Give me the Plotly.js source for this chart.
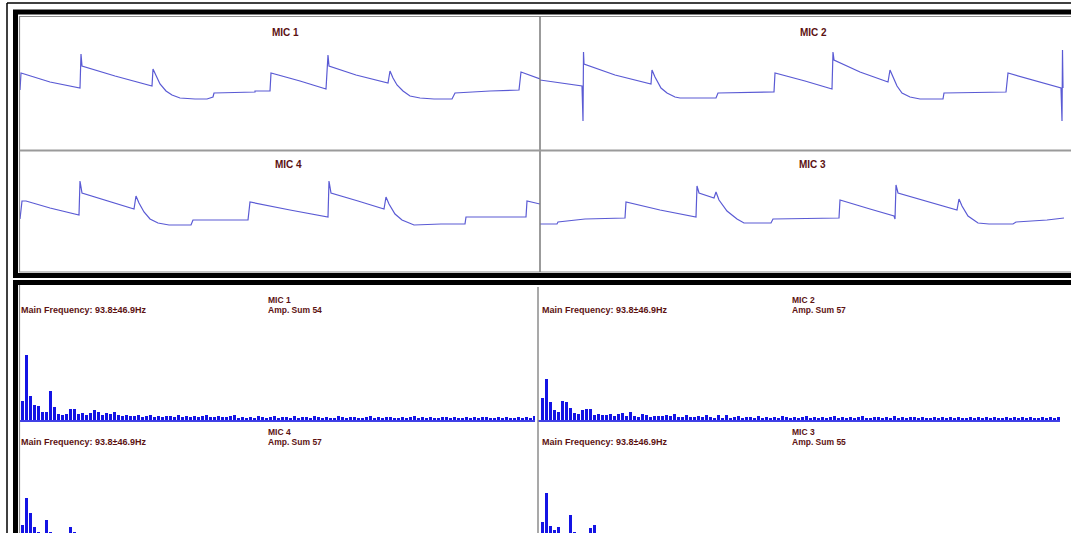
<!DOCTYPE html>
<html><head><meta charset="utf-8">
<script src="https://cdn.plot.ly/plotly-3.0.1.min.js"></script>
<style>html,body{margin:0;padding:0;background:#fff;overflow:hidden}#chart{width:1071px;height:533px}</style>
</head><body><div id="chart"></div>
<script>
// ---- waveform data (time in samples, amplitude in arbitrary units) ----
const micNames = ["MIC 1", "MIC 2", "MIC 4", "MIC 3"];

const mic1T = [0,1,30,58,60,61,62,95,132,133,136,140,146,152,160,175,187,193,194,235,235,250,251,280,306,308,309,336,368,370,373,377,383,390,400,414,432,435,470,499,501,520];
const mic1A = [10,27,18,12,12,46,34,24,14,31,24,16,9,5,2,1,1,3,7,8,9,9,27,19,11,45,34,25,17,29,22,15,9,4,2,1,1,7,9,10,28,21];

const mic2T = [0,38,42,43,43.5,44,75,110,111,112,115,121,127,135,140,176,178,234,235,265,292,293,294,320,348,350,353,357,362,370,380,403,404,466,468,495,521,522,522.5,523];
const mic2A = [20,14,14,-21,48,36,25,16,16,30,23,12,7,3,2,2,7,8,27,19,11,48,40,28,18,30,23,14,7,3,1,1,7,8,27,19,12,-21,50,12];

const mic4T = [0,2,6,30,59,60,62,88,114,116,119,124,130,138,149,171,173,228,230,270,308,309,311,338,364,366,369,375,382,394,421,445,446,506,507,520];
const mic4A = [11,29,29,22,15,49,37,29,21,34,27,18,11,7,5,5,10,10,28,20,13,49,37,29,21,33,26,16,10,5,6,6,13,13,29,26];

const mic3T = [0,17,18,45,85,86,120,156,157,159,174,176,179,187,197,204,231,233,299,300,330,354,355,356,358,390,417,419,422,428,438,449,473,476,507,524];
const mic3A = [6,6,8,11,12,28,20,13,44,37,32,38,30,19,11,7,7,11,12,30,21,14,11,45,37,28,20,31,24,14,7,6,6,8,10,12];

// ---- spectra (bin index, amplitude) ----
const spec1 = [19,65,24,15,14,8,8,29,13,6, 5,6,11,11,6,7,5,7,10,8, 5,7,6,8,5,4,5,4,4,5, 3,4,5,3,4,3,4,4,3,5,
  3,4,3,4,3,4,5,3,3,4, 3,3,4,5,2,3,2,3,2,4, 3,2,3,4,2,3,3,2,4,2, 3,3,2,4,3,2,3,2,2,4,
  3,2,3,3,2,2,3,4,2,3, 2,3,3,2,2,3,2,3,4,2, 3,2,3,2,2,3,3,2,3,2, 2,3,2,3,2,3,3,2,2,3, 2,3,2,2,3,2,3,2,4];
const spec2 = [22,41,18,10,8,19,18,12,7,6, 10,11,11,5,6,5,5,6,4,6, 7,4,8,4,3,6,5,3,4,4, 4,5,4,6,3,3,5,3,3,4,
  3,5,3,2,5,2,5,2,3,4, 2,3,3,2,4,2,3,2,3,2, 4,3,2,3,2,3,4,2,3,2, 3,2,3,4,2,3,2,3,2,3,
  4,2,2,3,3,2,3,2,4,2, 3,2,3,3,2,3,2,2,3,2, 3,2,3,2,3,2,2,3,2,3, 2,3,2,3,2,2,3,2,3,2, 3,2,3,2,2,3,2,3,2,3];
const spec4 = [31,58,43,29,24,22,36,24,18,16, 17,22,29,24,15,14,16,12,14,10, 12,11,10,12,9,10,8,9,10,8];
const spec3 = [34,63,30,26,29,20,18,41,24,16, 15,18,28,31,14,15,12,13,11,12, 10,12,9,11,10,8,9,10,8,9];

const mainFreqText = "Main Frequency: 93.8±46.9Hz";
const ampSums = [54, 57, 57, 55];

// ---- layout helpers ----
const W = 1071, H = 533;
const fx = p => p / W;
const fy = p => 1 - p / H;
const idx = a => a.map((_, i) => i);

const waveColor = "#5a5ad4";
const barColor = "#1414e4";
const textColor = "#5c1212";

const traces = [
  {x: mic1T, y: mic1A, xaxis: "x", yaxis: "y"},
  {x: mic2T, y: mic2A, xaxis: "x2", yaxis: "y2"},
  {x: mic4T, y: mic4A, xaxis: "x3", yaxis: "y3"},
  {x: mic3T, y: mic3A, xaxis: "x4", yaxis: "y4"}
].map(t => Object.assign(t, {type: "scatter", mode: "lines", line: {color: waveColor, width: 1.2}, hoverinfo: "skip"}));

[[spec1, "x5", "y5"], [spec2, "x6", "y6"], [spec4, "x7", "y7"], [spec3, "x8", "y8"]].forEach(([s, xa, ya]) => {
  traces.push({type: "bar", x: idx(s), y: s, xaxis: xa, yaxis: ya, marker: {color: barColor, line: {width: 0}}, width: 0.75, hoverinfo: "skip"});
});

const ax = (extra) => Object.assign({showgrid: false, zeroline: false, showticklabels: false, ticks: "", showline: false, fixedrange: true}, extra);

const leftX = [fx(20), fx(540)], rightX = [fx(540), 1];
const topY = [fy(150), fy(17)], midY = [fy(272), fy(151)];
const specLX = [fx(20), fx(535)], specRX = [fx(538), fx(1060)];
const specTopY = [fy(420), fy(287)], specBotY = [0, fy(423)];
const baseLine = {showline: true, linecolor: "#4040e6", linewidth: 2};

const layout = {
  width: W, height: H,
  margin: {l: 0, r: 0, t: 0, b: 0},
  paper_bgcolor: "#ffffff", plot_bgcolor: "rgba(0,0,0,0)",
  showlegend: false, bargap: 0,
  font: {family: "Liberation Sans, Arial, sans-serif"},
  xaxis: ax({domain: leftX, range: [0, 520], anchor: "y"}),
  yaxis: ax({domain: topY, range: [-50, 83], anchor: "x"}),
  xaxis2: ax({domain: rightX, range: [0, 531], anchor: "y2"}),
  yaxis2: ax({domain: topY, range: [-50, 83], anchor: "x2"}),
  xaxis3: ax({domain: leftX, range: [0, 520], anchor: "y3"}),
  yaxis3: ax({domain: midY, range: [-42, 79], anchor: "x3"}),
  xaxis4: ax({domain: rightX, range: [0, 531], anchor: "y4"}),
  yaxis4: ax({domain: midY, range: [-42, 79], anchor: "x4"}),
  xaxis5: ax(Object.assign({domain: specLX, range: [-0.5, 128.25], anchor: "y5"}, baseLine)),
  yaxis5: ax({domain: specTopY, range: [0, 133], anchor: "x5"}),
  xaxis6: ax(Object.assign({domain: specRX, range: [-1, 129.5], anchor: "y6"}, baseLine)),
  yaxis6: ax({domain: specTopY, range: [0, 133], anchor: "x6"}),
  xaxis7: ax({domain: specLX, range: [-0.5, 128.25], anchor: "y7"}),
  yaxis7: ax({domain: specBotY, range: [23, 133], anchor: "x7"}),
  xaxis8: ax({domain: specRX, range: [-1, 129.5], anchor: "y8"}),
  yaxis8: ax({domain: specBotY, range: [23, 133], anchor: "x8"}),
  shapes: [],
  annotations: []
};

const line = (x0, y0, x1, y1, color, width) => ({type: "line", xref: "paper", yref: "paper", x0: fx(x0), y0: fy(y0), x1: fx(x1), y1: fy(y1), line: {color, width}, layer: "above"});
const rect = (x0, y0, x1, y1, color, width) => ({type: "rect", xref: "paper", yref: "paper", x0: fx(x0), y0: fy(y0), x1: fx(x1), y1: fy(y1), line: {color, width}, fillcolor: "rgba(0,0,0,0)", layer: "above"});

layout.shapes.push(
  // outer window edge
  line(7, 3, 1075, 3, "#000", 1.5),
  line(7, 3, 7, 540, "#000", 1.5),
  // top frame
  rect(15.5, 12, 1085, 275.5, "#000", 5),
  rect(19.5, 16.5, 1085, 272, "#8c8c8c", 1.2),
  line(540, 16.5, 540, 272, "#7a7a7a", 1.5),
  line(19.5, 150.5, 1071, 150.5, "#9a9a9a", 2),
  // bottom frame
  rect(15.5, 282.5, 1085, 560, "#000", 5),
  line(19.5, 285, 19.5, 533, "#8c8c8c", 1.2),
  line(538, 287, 538, 533, "#8c8c8c", 1.5)
);

const titlePos = [[285, 32], [813, 32], [288, 164], [812, 164]];
micNames.forEach((n, i) => {
  layout.annotations.push({xref: "paper", yref: "paper", x: fx(titlePos[i][0]), y: fy(titlePos[i][1]), text: "<b>" + n + "</b>", showarrow: false, xanchor: "center", yanchor: "middle", font: {size: 10, color: textColor}});
});

const specTextPos = [[19, 266, 300], [540, 790, 300], [19, 266, 432], [540, 790, 432]];
const specNames = ["MIC 1", "MIC 2", "MIC 4", "MIC 3"];
specNames.forEach((n, i) => {
  const [xl, xm, yt] = specTextPos[i];
  layout.annotations.push(
    {xref: "paper", yref: "paper", x: fx(xl), y: fy(yt + 10), text: "<b>" + mainFreqText + "</b>", showarrow: false, xanchor: "left", yanchor: "middle", font: {size: 9, color: textColor}},
    {xref: "paper", yref: "paper", x: fx(xm), y: fy(yt), text: "<b>" + n + "</b>", showarrow: false, xanchor: "left", yanchor: "middle", font: {size: 8.5, color: textColor}},
    {xref: "paper", yref: "paper", x: fx(xm), y: fy(yt + 10), text: "<b>Amp. Sum " + ampSums[i] + "</b>", showarrow: false, xanchor: "left", yanchor: "middle", font: {size: 8.5, color: textColor}}
  );
});

Plotly.newPlot("chart", traces, layout, {staticPlot: true, displayModeBar: false});
</script>
</body></html>
